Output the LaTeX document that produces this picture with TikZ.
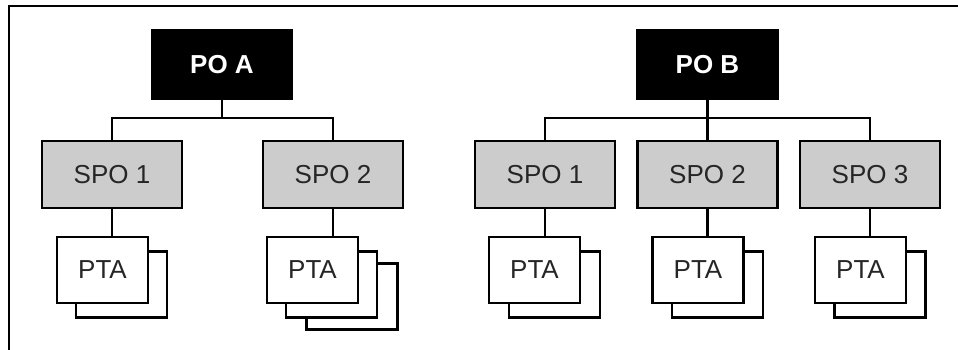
\documentclass[tikz,border=0pt]{standalone}
\usepackage{fontspec}
\setmainfont{Liberation Sans}
\begin{document}
\begin{tikzpicture}[x=1pt,y=-1pt,
  line width=2.3pt,
  pobox/.style={draw=black,fill=black,text=white,font=\bfseries\fontsize{26}{30}\selectfont,
    minimum width=140pt,minimum height=69pt,inner sep=0pt},
  spobox/.style={draw=black,fill=black!20,text=black!85,font=\fontsize{26}{30}\selectfont,
    minimum width=140pt,minimum height=67pt,inner sep=0pt},
  ptabox/.style={draw=black,fill=white,text=black!85,font=\fontsize{26}{30}\selectfont,
    minimum width=91pt,minimum height=66pt,inner sep=0pt},
  link/.style={draw=black,line width=2.3pt}]
\useasboundingbox (0,0) rectangle (958,350);
% outer frame (top and left edges)
\draw[line width=2.5pt] (962,6) -- (9,6) -- (9,354);

% ---- group A ----
\node[pobox] (poa) at (222,64.5) {PO A};
\node[spobox] (a1) at (112,174.5) {SPO 1};
\node[spobox] (a2) at (333,174.5) {SPO 2};
% stacked PTA cards under SPO 1
\node[ptabox] (a1b) at (121.5,284.5) {};
\node[ptabox] (a1f) at (102.5,270) {PTA};
% stacked PTA cards under SPO 2
\node[ptabox] (a2c) at (352,296.5) {};
\node[ptabox] (a2b) at (331.5,284.5) {};
\node[ptabox] (a2f) at (312.5,270) {PTA};

\coordinate (busa) at (222,118);
\draw[link] (poa.south) -- (busa);
\draw[link] (busa) -| (a1.north);
\draw[link] (busa) -| (a2.north);
\draw[link] (a1.south) -- (a1.south |- a1f.north);
\draw[link] (a2.south) -- (a2.south |- a2f.north);

% ---- group B ----
\node[pobox] (pob) at (707.5,64.5) {PO B};
\node[spobox] (b1) at (545,174.5) {SPO 1};
\node[spobox] (b2) at (707.5,174.5) {SPO 2};
\node[spobox] (b3) at (870,174.5) {SPO 3};
\node[ptabox] (b1b) at (554.5,284.5) {};
\node[ptabox] (b1f) at (534.5,270) {PTA};
\node[ptabox] (b2b) at (717.5,284.5) {};
\node[ptabox] (b2f) at (698,270) {PTA};
\node[ptabox] (b3b) at (880,284.5) {};
\node[ptabox] (b3f) at (860.5,270) {PTA};

\coordinate (busb) at (707.5,118);
\draw[link] (pob.south) -- (b2.north);
\draw[link] (busb) -| (b1.north);
\draw[link] (busb) -| (b3.north);
\draw[link] (b1.south) -- (b1.south |- b1f.north);
\draw[link] (b2.south) -- (b2.south |- b2f.north);
\draw[link] (b3.south) -- (b3.south |- b3f.north);
\end{tikzpicture}
\end{document}
